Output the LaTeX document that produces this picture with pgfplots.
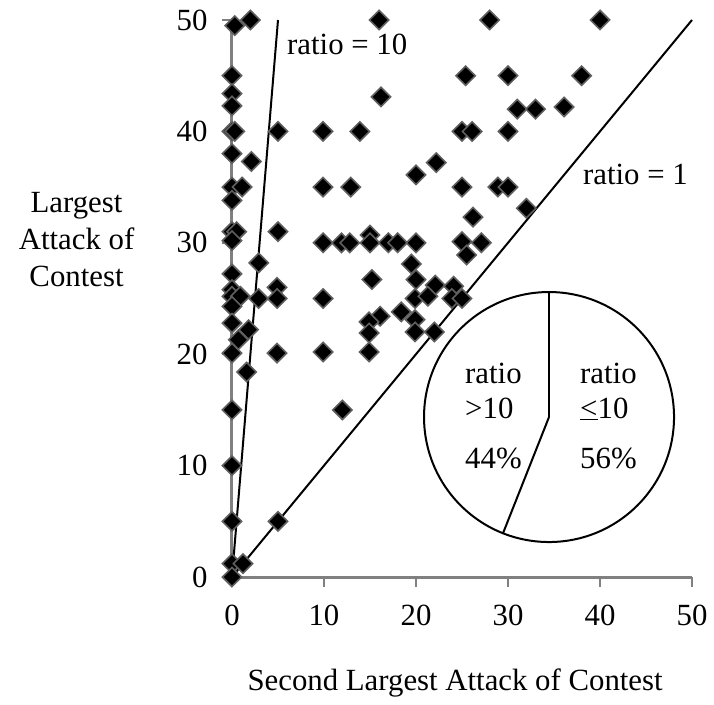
\documentclass[border=0pt]{standalone}
\usepackage{fontspec}
\setmainfont{Liberation Serif}
\usepackage{pgfplots}
\pgfplotsset{compat=1.18}
\definecolor{axgray}{RGB}{128,128,128}
\definecolor{mkgray}{RGB}{95,95,95}

\begin{document}
\begin{tikzpicture}[font=\fontsize{30.8}{37}\selectfont]
\useasboundingbox (-232pt,-127pt) rectangle (482pt,577pt);
\begin{axis}[
    at={(0pt,0pt)}, anchor=south west,
    scale only axis, width=460pt, height=557pt,
    xmin=0, xmax=50, ymin=0, ymax=50,
    axis x line*=bottom, axis y line*=left,
    axis line style={axgray, line width=3pt},
    tick style={axgray, line width=2.2pt},
    tick align=outside, major tick length=10pt,
    xtick={0,10,...,50}, ytick={0,10,...,50},
    /pgf/number format/assume math mode=true,
    yticklabel style={xshift=-11pt},
    xticklabel style={yshift=-14pt},
    clip=false,
    xlabel={Second Largest Attack of Contest},
    xlabel style={at={(axis description cs:0.485,-0.203)}, anchor=base},
    ylabel={Largest\\Attack of\\Contest},
    ylabel style={rotate=-90, align=center, at={(axis description cs:-0.338,0.605)}, anchor=center},
]
% reference lines
\addplot[black, line width=2pt] coordinates {(0,0) (5,50)};
\addplot[black, line width=2pt] coordinates {(0,0) (50,50)};

% contests
\addplot[only marks, mark=square*, mark size=6.8pt,
    mark options={rotate=45, fill=black, draw=mkgray, line width=1.6pt}]
  coordinates {
    (0.3,49.5) (2,50)
    (0,45) (0,43.4) (0,42.3) (0,40) (0.3,40) (0,38) (0,35) (1.1,35) (0,33.8)
    (0,31) (0.5,31) (0,30.2) (0,27.2) (0,25.8) (0,25.2) (0.9,25.2) (0,24.3)
    (0,22.8) (0.7,21.3) (1.8,22.2) (0,20.1) (1.6,18.4) (0,15) (0,10) (0,5)
    (0,1.2) (1.2,1.2) (0,0)
    (5,40) (2.1,37.3) (5,31) (2.9,28.2) (4.9,26) (2.9,25) (4.9,25) (4.9,20.1) (5,5)
    (9.9,40) (13.9,40) (9.9,35) (12.9,35) (16,50) (16.2,43.1) (20,36.1) (22.2,37.2)
    (25.4,45) (25,40) (26.1,40) (25,35) (28.9,35) (30,35) (26.2,32.3) (32,33.1)
    (28,50) (40,50) (30,45) (38,45) (31,42) (33,42) (36.1,42.2) (30,40)
    (9.9,30) (11.9,30) (12.8,30) (15,30.7) (15,30) (17,30) (18,30) (20,30)
    (25,30.1) (27.1,30) (25.5,28.9) (19.5,28.1)
    (15.2,26.7) (20,26.7) (22.1,26.2) (24.1,26.1) (9.9,25) (19.9,25) (21.3,25.2)
    (23.9,25) (25,25) (18.4,23.8) (16.1,23.4) (14.9,22.9) (19.9,23.1) (14.9,21.9)
    (19.9,22) (22,22) (9.9,20.2) (14.9,20.2) (12,15)
  };

\node[anchor=base west, inner sep=0pt] at (axis cs:5.98,46.86) {ratio = 10};
\node[anchor=base west, inner sep=0pt] at (axis cs:38.15,35.19) {ratio = 1};

% pie of shares: 44% ratio > 10, 56% ratio <= 10
\coordinate (pc) at (axis cs:34.46,14.36);
\draw[black, line width=2pt, fill=white] (pc) circle[radius=125pt];
\draw[black, line width=2pt] (pc) -- ++(90:125pt);
\draw[black, line width=2pt] (pc) -- ++(248.4:125pt);
\node[anchor=base west, inner sep=0pt] at (axis cs:25.33,17.41) {ratio};
\node[anchor=base west, inner sep=0pt] at (axis cs:25.33,14.27) {>10};
\node[anchor=base west, inner sep=0pt] at (axis cs:25.33,9.78) {44\%};
\node[anchor=base west, inner sep=0pt] at (axis cs:37.83,17.41) {ratio};
\node[anchor=base west, inner sep=0pt] at (axis cs:37.83,14.27) {\underline{<}10};
\node[anchor=base west, inner sep=0pt] at (axis cs:37.83,9.78) {56\%};
\end{axis}
\end{tikzpicture}
\end{document}
